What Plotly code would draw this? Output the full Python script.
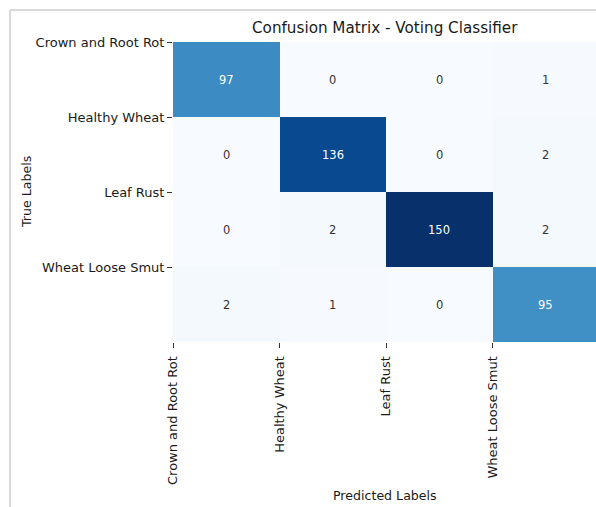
import plotly.graph_objects as go

# Class names and confusion-matrix counts (rows = true, cols = predicted)
classes = ["Crown and Root Rot", "Healthy Wheat", "Leaf Rust", "Wheat Loose Smut"]
counts = [
    [97, 0, 0, 1],
    [0, 136, 0, 2],
    [0, 2, 150, 2],
    [2, 1, 0, 95],
]

title_text = "Confusion Matrix - Voting Classifier"
x_title = "Predicted Labels"
y_title = "True Labels"

# matplotlib "Blues" colormap stops
blues = ["#f7fbff", "#deebf7", "#c6dbef", "#9ecae1", "#6baed6",
         "#4292c6", "#2171b5", "#08519c", "#08306b"]
colorscale = [[i / (len(blues) - 1), c] for i, c in enumerate(blues)]
zmax = max(max(r) for r in counts)

n = len(classes)
centers = [i + 0.5 for i in range(n)]

FONT = "DejaVu Sans"
W, H = 596, 507
L, R, T, B = 173, 0, 42, 165
pw, ph = W - L - R, H - T - B

fig = go.Figure(go.Heatmap(
    z=counts, x=centers, y=centers,
    colorscale=colorscale, zmin=0, zmax=zmax,
    showscale=False, xgap=0, ygap=0, hoverinfo="skip",
))

# cell annotations, white on dark cells
annotations = []
for i, row in enumerate(counts):
    for j, v in enumerate(row):
        annotations.append(dict(
            x=j + 0.5, y=i + 0.5, xref="x", yref="y", text=str(v),
            showarrow=False,
            font=dict(family=FONT, size=11.5,
                      color="#ffffff" if v / zmax > 0.45 else "#333333"),
        ))


def px_x(p):
    return (p - L) / pw


def px_y(p):
    return (H - B - p) / ph


annotations += [
    dict(x=px_x(385), y=px_y(28), xref="paper", yref="paper", text=title_text,
         showarrow=False, font=dict(family=FONT, size=15.2, color="#1a1a1a"),
         xanchor="center", yanchor="middle"),
    dict(x=px_x(385), y=px_y(496), xref="paper", yref="paper", text=x_title,
         showarrow=False, font=dict(family=FONT, size=12.6, color="#1a1a1a"),
         xanchor="center", yanchor="middle"),
    dict(x=px_x(26), y=px_y(192), xref="paper", yref="paper", text=y_title,
         showarrow=False, textangle=-90,
         font=dict(family=FONT, size=12.6, color="#1a1a1a"),
         xanchor="center", yanchor="middle"),
]

tick_font = dict(family=FONT, size=13, color="#1a1a1a")
fig.update_layout(
    width=W, height=H,
    margin=dict(l=L, r=R, t=T, b=B, pad=0),
    paper_bgcolor="white", plot_bgcolor="white",
    annotations=annotations,
    showlegend=False,
    xaxis=dict(range=[0, (W - L) / 106.5], tickvals=list(range(n)),
               ticktext=classes, tickangle=-90, ticks="outside", ticklen=5,
               tickwidth=1, tickcolor="#333", showgrid=False, zeroline=False,
               showline=False, tickfont=tick_font, fixedrange=True,
               ticklabelstandoff=3),
    yaxis=dict(range=[n, 0], tickvals=list(range(n)), ticktext=classes,
               ticks="outside", ticklen=5, tickwidth=1, tickcolor="#333",
               showgrid=False, zeroline=False, showline=False,
               tickfont=tick_font, fixedrange=True, ticklabelstandoff=0),
    shapes=[
        dict(type="line", xref="paper", yref="paper",
             x0=px_x(10), x1=px_x(10), y0=px_y(10), y1=px_y(H + 5),
             line=dict(color="#d9d9d9", width=2)),
        dict(type="line", xref="paper", yref="paper",
             x0=px_x(10), x1=px_x(W + 5), y0=px_y(10), y1=px_y(10),
             line=dict(color="#d9d9d9", width=2)),
    ],
)

fig.write_html("out.html")
